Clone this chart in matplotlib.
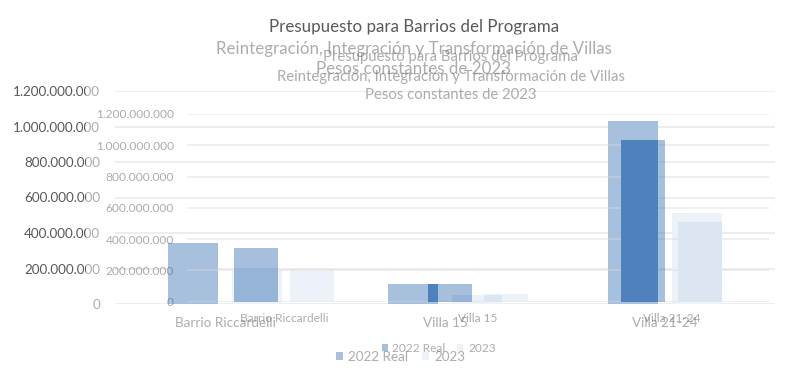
import matplotlib
matplotlib.use("Agg")
import matplotlib.pyplot as plt
from matplotlib.patches import Rectangle
import matplotlib.colors as mcolors

# datos (pesos constantes de 2023)
categorias = ["Barrio Riccardelli", "Villa 15", "Villa 21-24"]
real_2022 = [345e6, 114e6, 1031e6]
pres_2023 = [204e6, 51e6, 512e6]
series = ["2022 Real", "2023"]
ticks_y = [0, 200e6, 400e6, 600e6, 800e6, 1000e6, 1200e6]
titulo = ["Presupuesto para Barrios del Programa",
          "Reintegración, Integración y Transformación de Villas",
          "Pesos constantes de 2023"]

W, H = 800, 371
AZUL = "#4F81BD"
CELESTE = "#DCE6F2"
TEXTO = "#595959"
GRILLA = "#D9D9D9"
FUENTE = "Lato"

plt.rcParams["font.family"] = [FUENTE, "DejaVu Sans"]


def fmt(v):
    return f"{v:,.0f}".replace(",", ".")


def dibujar(fig, ox, oy, s, alpha, z):
    # coordenadas base en pixeles (800x371), desplazadas y escaladas
    def fx(x):
        return (ox + s * x) / W

    def fy(y):
        return 1 - (oy + s * y) / H

    pt = s * 0.72  # pixeles -> puntos (dpi 100)
    ax = fig.add_axes([fx(115), fy(304), fx(775) - fx(115), fy(91) - fy(304)], zorder=z)
    ax.patch.set_visible(False)
    for sp in ax.spines.values():
        sp.set_visible(False)

    x = range(len(categorias))
    ancho = 50 / 220
    desp = 32 / 220
    b1 = ax.bar([i - desp for i in x], real_2022, ancho, color=AZUL, alpha=alpha, zorder=2)
    b2 = ax.bar([i + desp for i in x], pres_2023, ancho, color=CELESTE, alpha=alpha, zorder=2)

    ax.set_xlim(-0.5, 2.5)
    ax.set_ylim(0, 1.2e9)
    ax.set_yticks(ticks_y, [fmt(v) for v in ticks_y])
    ax.set_xticks(list(x), categorias)
    ax.yaxis.grid(True, color=GRILLA, linewidth=1.3 * s, alpha=alpha, zorder=1)
    ax.set_axisbelow(True)
    ax.tick_params(axis="y", length=0, pad=15 * pt, labelsize=9.7 * s, labelcolor=TEXTO)
    ax.tick_params(axis="x", length=0, pad=13 * pt, labelsize=9.7 * s, labelcolor=TEXTO)
    for t in ax.get_yticklabels() + ax.get_xticklabels():
        t.set_alpha(alpha)

    ys = [26.7, 49, 69.5]
    for txt, y in zip(titulo, ys):
        fig.text(fx(414), fy(y), txt, ha="center", va="center", fontsize=12.2 * s,
                 color=TEXTO, alpha=alpha, zorder=z + 0.5)

    leg = ax.legend([b1, b2], series, loc="center", bbox_to_anchor=(fx(400.5), fy(357)),
                    bbox_transform=fig.transFigure, ncol=2, frameon=False,
                    fontsize=9.7 * s, handlelength=0.5, handleheight=0.5,
                    handletextpad=0.4, columnspacing=1.0, borderpad=0)
    for t in leg.get_texts():
        t.set_color(TEXTO)
        t.set_alpha(alpha)
    return ax, list(b1) + list(b2)


fig = plt.figure(figsize=(W / 100, H / 100), dpi=100)
fig.patch.set_facecolor("white")

# grafico grande (fondo)
ax_g, barras_g = dibujar(fig, 0, 0, 1.0, 1.0, 0)

# copia reducida superpuesta al 50 %
ox, oy, s = 85.8, 33.8, 0.881
fig.patches.append(Rectangle((ox / W, 1 - (oy + s * H) / H), s, s, transform=fig.transFigure,
                             facecolor="white", alpha=0.5, edgecolor="none", zorder=1))
ax_c, barras_c = dibujar(fig, ox, oy, s, 0.5, 2)

# donde se pisan las barras, mezcla 50/50 de ambos colores
for bc in barras_c:
    for bg in barras_g:
        c1 = mcolors.to_rgb(bc.get_facecolor())
        c2 = mcolors.to_rgb(bg.get_facecolor())
        mezcla = [(a + b) / 2 for a, b in zip(c1, c2)]
        r = Rectangle(bc.get_xy(), bc.get_width(), bc.get_height(), facecolor=mezcla,
                      edgecolor="none", zorder=3)
        ax_c.add_patch(r)
        r.set_clip_path(bg)

fig.savefig("out.png", dpi=100)
